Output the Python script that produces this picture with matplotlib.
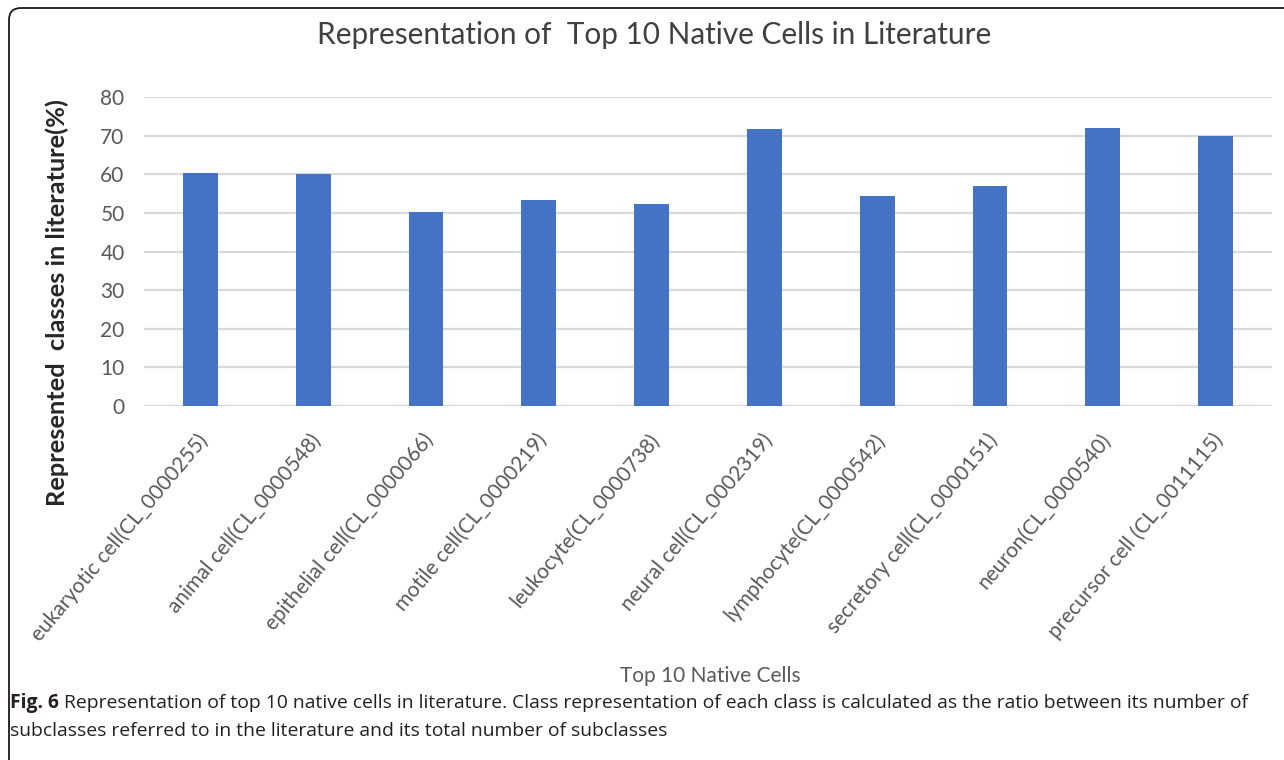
"""
Bar chart: representation of the top 10 native cells in literature (Fig. 6).
"""
import numpy as np
import matplotlib
matplotlib.use('Agg')
import matplotlib.pyplot as plt
from matplotlib.patches import FancyBboxPatch
from matplotlib.transforms import IdentityTransform, ScaledTranslation

# Data
cells = ["eukaryotic cell(CL_0000255)", "animal cell(CL_0000548)",
         "epithelial cell(CL_0000066)", "motile cell(CL_0000219)",
         "leukocyte(CL_0000738)", "neural cell(CL_0002319)",
         "lymphocyte(CL_0000542)", "secretory cell(CL_0000151)",
         "neuron(CL_0000540)", "precursor cell (CL_0011115)"]
represented_pct = [60.3, 60.0, 50.3, 53.4, 52.3, 71.8, 54.4, 56.9, 72.1, 70.0]
y_ticks = [0, 10, 20, 30, 40, 50, 60, 70, 80]

title = "Representation of  Top 10 Native Cells in Literature"
y_label = "Represented  classes in literature(%)"
x_label = "Top 10 Native Cells"
caption_bold = "Fig. 6"
caption_lines = [
    "Representation of top 10 native cells in literature. Class representation "
    "of each class is calculated as the ratio between its number of",
    "subclasses referred to in the literature and its total number of subclasses",
]

W, H = 1284, 760
DPI = 100
BAR_COLOR = '#4472C4'
GRID_COLOR = '#D9D9D9'
TEXT_GRAY = '#595959'

plt.rcParams['font.family'] = ['Lato', 'DejaVu Sans']

fig = plt.figure(figsize=(W / DPI, H / DPI), dpi=DPI)
fig.patch.set_facecolor('white')

# plot area in pixel terms: x 144..1272, y 97..406 (from top)
ax = fig.add_axes([144 / W, 1 - 406 / H, (1272 - 144) / W, (406 - 97) / H])

x = np.arange(len(cells))
ax.bar(x, represented_pct, width=0.31, color=BAR_COLOR, zorder=3)

ax.set_xlim(-0.5, len(cells) - 0.5)
ax.set_ylim(0, 80)
ax.set_yticks(y_ticks)
ax.yaxis.grid(True, color=GRID_COLOR, linewidth=1.6, zorder=0)
ax.set_axisbelow(True)
for s in ax.spines.values():
    s.set_visible(False)

ax.tick_params(axis='both', length=0, colors=TEXT_GRAY)
ax.tick_params(axis='y', labelsize=15, pad=14)
ax.set_xticks(x)
ax.set_xticklabels(cells, rotation=50, ha='right', va='center',
                   rotation_mode='anchor', fontsize=15, color=TEXT_GRAY)
ax.tick_params(axis='x', pad=22)
# nudge the rotated labels a little to the right, like the original
shift = ScaledTranslation(4 / DPI, 0, fig.dpi_scale_trans)
for lbl in ax.get_xticklabels():
    lbl.set_transform(lbl.get_transform() + shift)

# titles
fig.text(654 / W, 1 - 35 / H, title, ha='center', va='center',
         fontsize=21.4, color='#404040')
fig.text(57 / W, 1 - 303 / H, y_label, rotation=90, ha='center', va='center',
         fontsize=18.3, fontweight='bold', color='#262626')
fig.text(710 / W, 1 - 676 / H, x_label, ha='center', va='center',
         fontsize=15, color=TEXT_GRAY)

# caption below the chart, "Fig. 6" in bold
cap_font = ['Open Sans', 'DejaVu Sans']
cap_size = 13.9
renderer = fig.canvas.get_renderer()
t_bold = fig.text(10 / W, 1 - 703 / H, caption_bold, ha='left', va='center',
                  fontsize=cap_size, fontweight='bold', family=cap_font,
                  color='#231F20')
bb = t_bold.get_window_extent(renderer=renderer)
fig.text((bb.x1 + 5) / W, 1 - 703 / H, caption_lines[0], ha='left',
         va='center', fontsize=cap_size, family=cap_font, color='#231F20')
fig.text(10 / W, 1 - 731 / H, caption_lines[1], ha='left', va='center',
         fontsize=cap_size, family=cap_font, color='#231F20')

# outer frame with rounded top-left corner (runs off the right and bottom)
frame = FancyBboxPatch((9, -30), W + 40, H - 8 + 30,
                       boxstyle="round,pad=0,rounding_size=12",
                       transform=IdentityTransform(), fill=False,
                       edgecolor='#1a1a1a', linewidth=1.3, clip_on=False)
fig.add_artist(frame)

fig.savefig('out.png', dpi=DPI)
plt.close(fig)
